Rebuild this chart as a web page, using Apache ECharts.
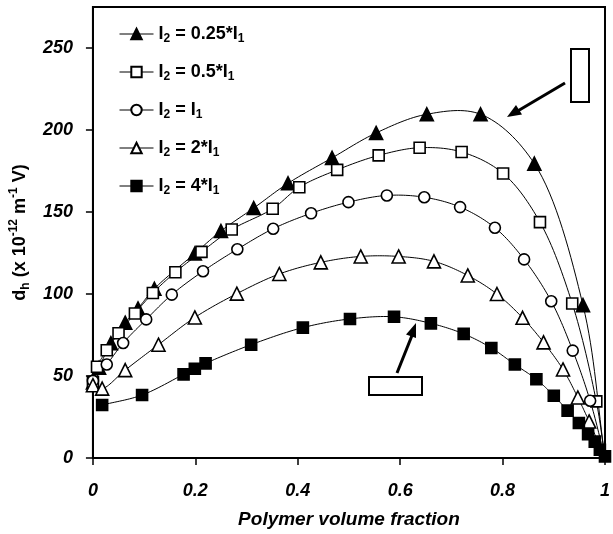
<!DOCTYPE html>
<html>
<head>
<meta charset="utf-8">
<script src="https://cdn.jsdelivr.net/npm/echarts@6/dist/echarts.min.js"></script>
<style>
    html, body {margin: 0;padding: 0;background: #fff}
    #chart {width: 613px;height: 534px}
</style>
</head>
<body>
<div id="chart"></div>
<script>
    // [polymer volume fraction, d_h]
    const quarterI1 = [[0, 46], [0.012, 55], [0.035, 70], [0.063, 82.5], [0.088, 91.2], [0.12, 103.2], [0.199, 124.7],
        [0.25, 138.4], [0.314, 152.4], [0.381, 167.5], [0.467, 183], [0.553, 198.2], [0.652, 209.6], [0.757, 209.6],
        [0.862, 179.5], [0.957, 93.2], [1, 0]]
    const halfI1 = [[0, 46.4], [0.008, 55.6], [0.027, 65.7], [0.05, 76.1], [0.082, 88.1], [0.117, 100.6], [0.161, 113.3],
        [0.212, 125.7], [0.271, 139.3], [0.351, 152], [0.403, 165.1], [0.477, 175.7], [0.558, 184.5], [0.638, 189.2],
        [0.72, 186.6], [0.801, 173.5], [0.873, 143.8], [0.936, 94.2], [0.983, 34.5], [1, 0]]
    const sameI1 = [[0, 47], [0.027, 57], [0.059, 70.1], [0.104, 84.5], [0.154, 99.6], [0.215, 113.9], [0.282, 127.3],
        [0.352, 139.8], [0.426, 149.2], [0.499, 156], [0.574, 160.1], [0.647, 159], [0.717, 153], [0.785, 140.4],
        [0.842, 121.1], [0.895, 95.6], [0.937, 65.5], [0.971, 34.9], [1, 0]]
    const twiceI1 = [[0, 44.4], [0.018, 42.3], [0.063, 53.6], [0.128, 69.1], [0.199, 85.7], [0.281, 100.2], [0.364, 112.2],
        [0.445, 119.3], [0.523, 122.9], [0.597, 122.9], [0.666, 119.9], [0.732, 111.3], [0.789, 100], [0.839, 85.5],
        [0.88, 70.5], [0.918, 54], [0.947, 36.9], [0.969, 22.3], [1, 0]]
    const fourI1 = [[0.018, 32.3], [0.096, 38.4], [0.177, 51], [0.199, 54.4], [0.22, 57.7], [0.309, 69.1], [0.41, 79.5],
        [0.502, 84.8], [0.588, 86.1], [0.66, 82.1], [0.724, 75.7], [0.778, 67.1], [0.824, 57], [0.866, 48], [0.9, 38],
        [0.927, 28.9], [0.949, 21.3], [0.967, 14.5], [0.98, 10], [0.99, 5], [1, 1]]

    const xTicks = [0, 0.2, 0.4, 0.6, 0.8, 1]
    const yTicks = [0, 50, 100, 150, 200, 250]

    const list = [
        {name: 'q', label: '{b|I}{s|2}{b| = 0.25*I}{s|1}', symbol: 'triangle', size: 13, fill: '#000', data: quarterI1, endMark: false},
        {name: 'h', label: '{b|I}{s|2}{b| = 0.5*I}{s|1}', symbol: 'rect', size: 11, fill: '#fff', data: halfI1, endMark: false},
        {name: 's', label: '{b|I}{s|2}{b| = I}{s|1}', symbol: 'circle', size: 11, fill: '#fff', data: sameI1, endMark: false},
        {name: 't', label: '{b|I}{s|2}{b| = 2*I}{s|1}', symbol: 'triangle', size: 13, fill: '#fff', data: twiceI1, endMark: false},
        {name: 'f', label: '{b|I}{s|2}{b| = 4*I}{s|1}', symbol: 'rect', size: 11, fill: '#000', data: fourI1, endMark: true}
    ]

    // centripetal catmull-rom through pixel points (echarts' own smoothing clamps at peaks)
    function spline(pts, steps) {
        const n = pts.length
        if (n < 3) return pts
        const get = i => {
            if (i < 0) return [2 * pts[0][0] - pts[1][0], 2 * pts[0][1] - pts[1][1]]
            if (i >= n) return [2 * pts[n - 1][0] - pts[n - 2][0], 2 * pts[n - 1][1] - pts[n - 2][1]]
            return pts[i]
        }
        const lerp = (a, b, ta, tb, t) => {
            const d = tb - ta
            return [(tb - t) / d * a[0] + (t - ta) / d * b[0], (tb - t) / d * a[1] + (t - ta) / d * b[1]]
        }
        const knot = (a, b) => Math.pow(Math.hypot(b[0] - a[0], b[1] - a[1]), 0.5) + 1e-4
        let out = [pts[0]]
        for (let i = 0; i < n - 1; i++) {
            const p0 = get(i - 1), p1 = get(i), p2 = get(i + 1), p3 = get(i + 2)
            const t0 = 0, t1 = t0 + knot(p0, p1), t2 = t1 + knot(p1, p2), t3 = t2 + knot(p2, p3)
            for (let k = 1; k <= steps; k++) {
                const t = t1 + (t2 - t1) * k / steps
                const a1 = lerp(p0, p1, t0, t1, t), a2 = lerp(p1, p2, t1, t2, t), a3 = lerp(p2, p3, t2, t3, t)
                const b1 = lerp(a1, a2, t0, t2, t), b2 = lerp(a2, a3, t1, t3, t)
                out.push(lerp(b1, b2, t1, t2, t))
            }
        }
        return out
    }

    let seriesList = []
    list.forEach(item => {
        const n = item.data.length
        // thin fitted curve
        seriesList.push({
            name: item.name + '-curve',
            type: 'custom',
            data: [0],
            silent: true,
            z: 2,
            renderItem: (params, api) => ({
                type: 'polyline',
                shape: {points: spline(item.data.map(p => api.coord(p)), 16)},
                style: {stroke: '#000', lineWidth: 1, fill: 'none'}
            })
        })
        // markers
        seriesList.push({
            name: item.name,
            type: 'line',
            symbol: item.symbol,
            symbolSize: item.size,
            lineStyle: {width: 0, opacity: 0},
            itemStyle: {color: item.fill, borderColor: '#000', borderWidth: 1.6},
            // curves all meet at (1, 0); only the 4*I1 set has a marker there
            data: item.data.map((p, i) => (i === n - 1 && !item.endMark) ? {value: p, symbolSize: 0} : p),
            z: 3
        })
    })

    const labelMap = {}
    list.forEach(item => { labelMap[item.name] = item.label })

    const axisFont = {fontFamily: 'Liberation Sans', fontWeight: 'bold', fontStyle: 'italic', fontSize: 18, color: '#000'}

    const myChart = echarts.init(document.getElementById('chart'))
    myChart.setOption({
        animation: false,
        backgroundColor: '#fff',
        grid: {
            left: 89,
            right: 2,
            top: 7,
            bottom: 71,
            show: true,
            borderColor: '#000',
            borderWidth: 2
        },
        legend: {
            orient: 'vertical',
            left: 119,
            top: 25,
            padding: 0,
            itemGap: 18,
            itemWidth: 34,
            itemHeight: 13,
            data: list.map(item => item.name),
            formatter: name => labelMap[name],
            lineStyle: {color: '#000', width: 1, opacity: 1},
            textStyle: {
                rich: {
                    b: {fontFamily: 'Liberation Sans', fontWeight: 'bold', fontSize: 18, lineHeight: 22, color: '#000'},
                    s: {fontFamily: 'Liberation Sans', fontWeight: 'bold', fontSize: 12, lineHeight: 12, verticalAlign: 'bottom', color: '#000'}
                }
            }
        },
        xAxis: {
            type: 'value',
            min: xTicks[0],
            max: xTicks[xTicks.length - 1],
            interval: 0.2,
            name: 'Polymer volume fraction',
            nameLocation: 'middle',
            nameGap: 52,
            nameTextStyle: {fontFamily: 'Liberation Sans', fontWeight: 'bold', fontStyle: 'italic', fontSize: 19, color: '#000'},
            axisLine: {lineStyle: {color: '#000', width: 2}},
            axisTick: {length: 7, lineStyle: {color: '#000', width: 1.5}},
            axisLabel: Object.assign({margin: 24, formatter: v => String(+v.toFixed(1))}, axisFont),
            splitLine: {show: false}
        },
        yAxis: {
            type: 'value',
            min: yTicks[0],
            max: 275,
            interval: 50,
            name: '{t|d}{sb|h}{t| (x 10}{sp|-12}{t| m}{sp|-1}{t| V)}',
            nameLocation: 'middle',
            nameGap: 52,
            nameTextStyle: {
                rich: {
                    t: {fontFamily: 'Liberation Sans', fontWeight: 'bold', fontSize: 18, lineHeight: 24, color: '#000'},
                    sb: {fontFamily: 'Liberation Sans', fontWeight: 'bold', fontSize: 12, lineHeight: 12, verticalAlign: 'bottom', color: '#000'},
                    sp: {fontFamily: 'Liberation Sans', fontWeight: 'bold', fontSize: 12, lineHeight: 12, verticalAlign: 'top', color: '#000'}
                }
            },
            axisLine: {show: true, lineStyle: {color: '#000', width: 2}},
            axisTick: {show: true, length: 7, lineStyle: {color: '#000', width: 1.5}},
            axisLabel: Object.assign({margin: 20, showMaxLabel: false, formatter: v => yTicks.indexOf(v) >= 0 ? String(v) : ''}, axisFont),
            splitLine: {show: false}
        },
        // empty boxes + arrows from the original figure
        graphic: [
            {type: 'rect', shape: {x: 571, y: 49, width: 18, height: 53}, style: {fill: '#fff', stroke: '#000', lineWidth: 2}},
            {type: 'line', shape: {x1: 565, y1: 83, x2: 516, y2: 112}, style: {stroke: '#000', lineWidth: 3}},
            {type: 'polygon', shape: {points: [[507, 117], [522, 114.5], [516, 105]]}, style: {fill: '#000'}},
            {type: 'rect', shape: {x: 369, y: 377, width: 53, height: 18}, style: {fill: '#fff', stroke: '#000', lineWidth: 2}},
            {type: 'line', shape: {x1: 397, y1: 373, x2: 413, y2: 333}, style: {stroke: '#000', lineWidth: 3}},
            {type: 'polygon', shape: {points: [[416, 323], [416, 338], [406, 334.5]]}, style: {fill: '#000'}}
        ],
        series: seriesList
    })
</script>
</body>
</html>
